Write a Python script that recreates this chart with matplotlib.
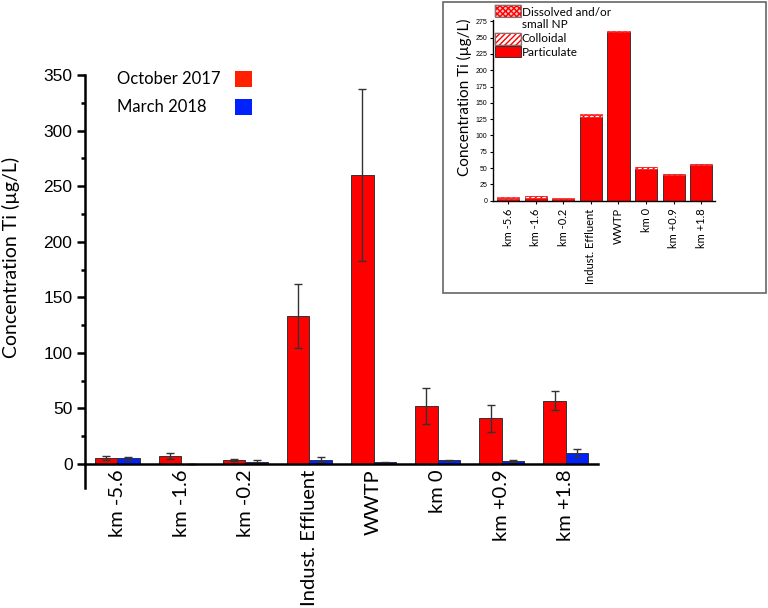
import matplotlib
matplotlib.use("Agg")
import matplotlib.pyplot as plt
import numpy as np
from matplotlib.patches import Rectangle
from matplotlib.ticker import MultipleLocator

categories = ["km -5.6", "km -1.6", "km -0.2", "Indust. Effluent", "WWTP", "km 0", "km +0.9", "km +1.8"]
oct2017 = [5.5, 7.0, 3.6, 133, 260, 52, 41, 57]
oct2017_err = [1.5, 2.5, 1.0, 29, 77, 16, 12, 8.5]
mar2018 = [5.0, 0.0, 2.0, 4.0, 1.5, 3.5, 2.7, 10.0]
mar2018_err = [1.0, 0.0, 1.5, 2.0, 0.5, 0.5, 0.5, 3.8]

# inset: fractions (stacked)
particulate = [3.0, 4.0, 2.5, 129, 258, 48, 40, 55]
colloidal = [1.5, 2.5, 0.5, 3.0, 1.0, 3.0, 0.5, 1.0]
dissolved = [0.5, 0.5, 0.5, 1.0, 1.0, 1.0, 0.5, 1.0]

main_legend = ["October 2017", "March 2018"]
inset_legend = ["Dissolved and/or", "small NP", "Colloidal", "Particulate"]

RED = "#FF0000"
BLUE = "#0022FF"
LBL = ["Lato", "DejaVu Sans"]
NUM = ["Liberation Sans", "DejaVu Sans"]
W, H = 768, 608

fig = plt.figure(figsize=(7.68, 6.08), dpi=100)


def fx(px):
    return px / W


def fy(py):
    return 1 - py / H


def frect(x0, y0, x1, y1, **kw):
    r = Rectangle((fx(x0), fy(y1)), fx(x1) - fx(x0), fy(y0) - fy(y1),
                  transform=fig.transFigure, **kw)
    fig.patches.append(r)
    return r


# ---------------- main axes ----------------
ax = fig.add_axes([fx(85), fy(488.5), fx(598) - fx(85), fy(75) - fy(488.5)])
x = np.arange(len(categories))
w = 0.35
ax.bar(x - w/2, oct2017, w, color=RED, edgecolor="#333333", linewidth=0.7,
       yerr=oct2017_err, error_kw=dict(ecolor="#333333", elinewidth=1, capsize=3, capthick=1))
ax.bar(x + w/2, mar2018, w, color=BLUE, edgecolor="#333333", linewidth=0.7,
       yerr=mar2018_err, error_kw=dict(ecolor="#333333", elinewidth=1, capsize=3, capthick=1))
ax.set_xlim(-0.5, 7.5)
ax.set_ylim(-22, 350)
ax.spines["top"].set_visible(False)
ax.spines["right"].set_visible(False)
ax.spines["bottom"].set_position(("data", 0))
for s in ("left", "bottom"):
    ax.spines[s].set_linewidth(1.8)
ax.set_yticks(np.arange(0, 351, 50))
ax.yaxis.set_minor_locator(MultipleLocator(25))
ax.tick_params(axis="y", which="major", length=6, width=1.8, direction="out", pad=3)
ax.tick_params(axis="y", which="minor", length=3, width=1.8, direction="out")
ax.set_yticklabels([str(v) for v in range(0, 351, 50)], fontsize=12.5, family=NUM)
ax.set_xticks(x)
ax.set_xticklabels(categories, rotation=90, fontsize=14.5, family=LBL)
ax.tick_params(axis="x", length=0, pad=4)
ax.set_ylabel("Concentration Ti (µg/L)", fontsize=14, family=LBL)
ax.yaxis.set_label_coords(-0.127, 0.56)

# main legend (text left, swatch right)
for i, (lab, col) in enumerate(zip(main_legend, ["#FF2000", BLUE])):
    yc = 79 + 28 * i
    fig.text(fx(117), fy(yc), lab, fontsize=12, family=LBL, ha="left", va="center")
    frect(235, yc - 8, 252, yc + 8, facecolor=col, edgecolor="none")

# ---------------- inset ----------------
frect(443, 2, 766, 293, facecolor="white", edgecolor="#666666", linewidth=1.2, zorder=5)
ax2 = fig.add_axes([fx(493), fy(200.7), fx(715) - fx(493), fy(20) - fy(200.7)])
ax2.set_zorder(10)
ax2.patch.set_alpha(0)
xi = np.arange(len(categories))
wi = 0.8
p = np.array(particulate); c = np.array(colloidal); d = np.array(dissolved)
ax2.bar(xi, p, wi, color=RED, edgecolor="#222222", linewidth=0.6)
ax2.bar(xi, c, wi, bottom=p, color="white", edgecolor=RED, hatch="//////", linewidth=0.4)
ax2.bar(xi, d, wi, bottom=p + c, color="#FFC0C0", edgecolor=RED, hatch="xxxxxx", linewidth=0.4)
ax2.set_xlim(-0.55, 7.5)
ax2.set_ylim(0, 277)
ax2.spines["top"].set_visible(False)
ax2.spines["right"].set_visible(False)
for s in ("left", "bottom"):
    ax2.spines[s].set_linewidth(1.0)
ax2.set_yticks(np.arange(0, 276, 25))
ax2.set_yticklabels([str(v) for v in range(0, 276, 25)], fontsize=5, family=NUM)
ax2.tick_params(axis="y", length=2.5, width=0.8, pad=1.5)
ax2.set_xticks(xi)
ax2.set_xticklabels(categories, rotation=90, fontsize=8, family=LBL)
ax2.tick_params(axis="x", length=2.5, width=0.8, pad=3)
ax2.set_ylabel("Concentration Ti (µg/L)", fontsize=11, family=LBL)
ax2.yaxis.set_label_coords(-0.095, 0.57)

# inset legend
ax_leg = fig.add_axes([0, 0, 1, 1], zorder=11)
ax_leg.set_axis_off()
ax_leg.set_xlim(0, W)
ax_leg.set_ylim(H, 0)
ax_leg.add_patch(Rectangle((495, 5), 26, 12, facecolor="#FFC0C0", edgecolor=RED,
                           hatch="xxxxxx", linewidth=0.3))
ax_leg.add_patch(Rectangle((495, 5), 26, 12, facecolor="none", edgecolor="#777777", linewidth=0.8))
ax_leg.add_patch(Rectangle((495, 33), 26, 12, facecolor="white", edgecolor=RED,
                           hatch="//////", linewidth=0.3))
ax_leg.add_patch(Rectangle((495, 33), 26, 12, facecolor="none", edgecolor="#777777", linewidth=0.8))
ax_leg.add_patch(Rectangle((495, 46), 26, 11, facecolor=RED, edgecolor="#222222", linewidth=0.6))
for lab, yc in zip(inset_legend, [12, 24, 39, 52]):
    ax_leg.text(522, yc, lab, fontsize=8.5, family=LBL, ha="left", va="center")

fig.savefig("out.png", dpi=100)
